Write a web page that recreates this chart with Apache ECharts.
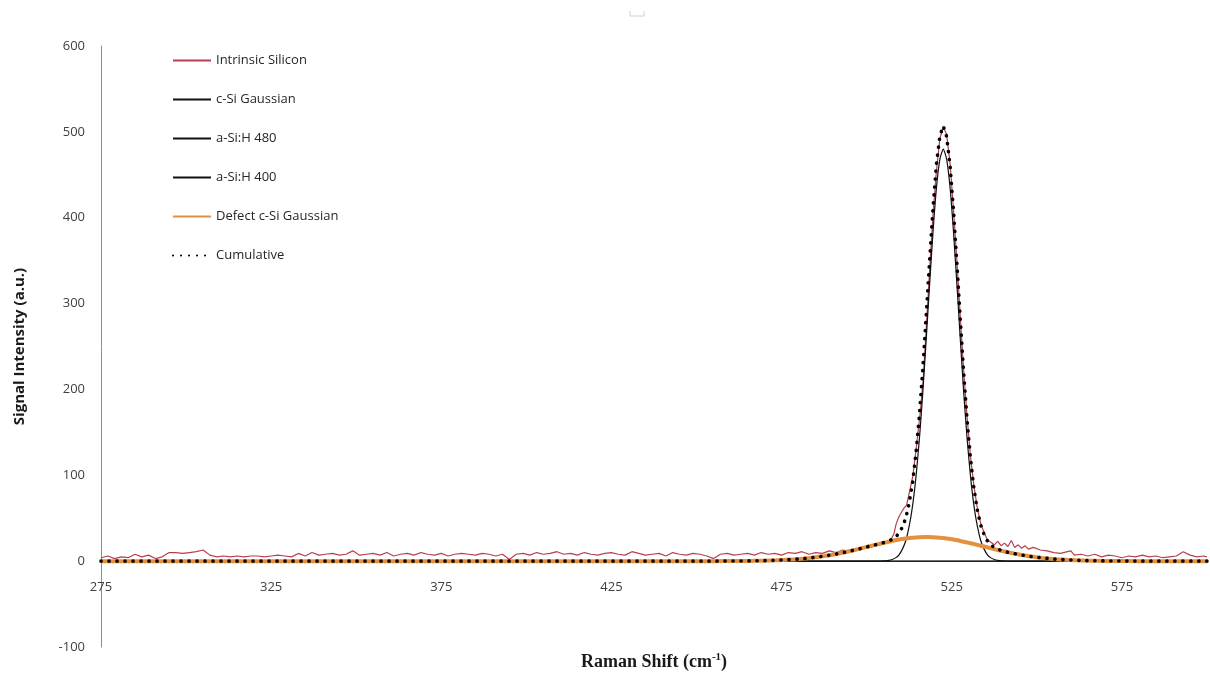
<!DOCTYPE html>
<html>
<head>
<meta charset="utf-8">
<script src="https://cdn.jsdelivr.net/npm/echarts@6/dist/echarts.min.js"></script>
<style>html,body{margin:0;padding:0;background:#fff}#c{width:1210px;height:675px}</style>
</head>
<body>
<div id="c"></div>
<script>
// ---- data ----
const seriesNames = ['Intrinsic Silicon', 'c-Si Gaussian', 'a-Si:H 480', 'a-Si:H 400', 'Defect c-Si Gaussian', 'Cumulative'];
const yTicks = [-100, 0, 100, 200, 300, 400, 500, 600];
const xTicks = [275, 325, 375, 425, 475, 525, 575];

const intrinsicSilicon = [
  [275,4],[277,6],[279,3],[281,5],[283,4],[285,8],[287,5],[289,7],[291,3],[293,5],
  [295,10],[297,10],[299,9],[301,10],[303,11],[305,13],[307,7],[309,5],[311,6],[313,5],
  [315,6],[317,5],[319,6],[321,6],[323,5],[325,6],[327,7],[329,6],[331,5],[333,9],
  [335,6],[337,10],[339,7],[341,8],[343,9],[345,7],[347,8],[349,12],[351,7],[353,8],
  [355,9],[357,7],[359,10],[361,6],[363,8],[365,9],[367,7],[369,10],[371,8],[373,7],
  [375,9],[377,6],[379,8],[381,9],[383,8],[385,7],[387,9],[389,8],[391,6],[393,8],
  [395,2],[397,8],[399,9],[401,7],[403,10],[405,8],[407,9],[409,11],[411,8],[413,9],
  [415,7],[417,10],[419,8],[421,7],[423,9],[425,10],[427,8],[429,7],[431,11],[433,9],
  [435,7],[437,8],[439,9],[441,6],[443,10],[445,8],[447,7],[449,9],[451,8],[453,6],
  [455,3],[457,8],[459,9],[461,7],[463,8],[465,9],[467,7],[469,10],[471,8],[473,9],
  [475,7],[477,10],[479,9],[481,11],[483,8],[485,10],[487,9],[489,12],[491,10],[493,13],
  [495,11],[497,14],[499,15],[501,17],[503,18],[505,20],[507,24],[508,32],[508.7,44],[509.5,52],
  [510.2,57],[511,62],[511.7,65],[512.7,83],[513.6,100],[514.6,133],[515.7,172],[516.6,211],[517.5,270],[518.5,340],
  [519.5,405],[520.5,455],[521.5,492],[522.5,506],[523.5,497],[524.5,463],[525.5,410],[526.5,350],[527.5,285],[528.5,222],
  [529.5,168],[530.5,122],[531.5,88],[532.5,62],[533.5,44],[534.5,33],[535.5,25],[536.5,22],[537.5,19],[538.5,23],
  [539.5,18],[540.5,21],[541.5,17],[542.5,24],[543.5,16],[544.5,19],[545.5,15],[546.5,18],[547.5,14],[549,16],
  [551,13],[553,12],[555,10],[557,9],[559,11],[560,12],[561,7],[563,8],[565,6],[567,8],[569,5],
  [571,7],[573,6],[575,4],[577,6],[579,5],[581,7],[583,5],[585,6],[587,4],[589,5],
  [591,6],[593,11],[595,7],[597,5],[599,6],[600,5]
];

const cSiGaussian = [
  [275,0],[503.5,0],[504.5,0.2],[505.5,0.4],[506.5,0.9],[507.5,1.9],[508.5,3.8],[509.5,7.4],[510.5,14],[511.5,24],
  [512.5,41],[513.5,65],[514.5,99],[515.5,143],[516.5,197],[517.5,259],[518.5,323],[519.5,384],[520.5,435],[521.5,468],
  [522.5,480],[523.5,468],[524.5,435],[525.5,384],[526.5,323],[527.5,259],[528.5,197],[529.5,143],[530.5,99],[531.5,65],
  [532.5,41],[533.5,24],[534.5,14],[535.5,7.4],[536.5,3.8],[537.5,1.9],[538.5,0.9],[539.5,0.4],[540.5,0.2],[541.5,0],[600,0]
];

const aSiH480 = [[275,0],[600,0]];
const aSiH400 = [[275,0],[600,0]];

const defectGaussian = [
  [275,0],[455,0],[461.5,0.12],[465.5,0.26],[469.5,0.5],[473.5,1.0],[477.5,1.8],[479.5,2.3],[481.5,3.0],[483.5,3.8],
  [485.5,4.8],[487.5,5.9],[489.5,7.2],[491.5,8.7],[493.5,10.3],[495.5,12.1],[497.5,14.0],[499.5,16.0],[501.5,18.0],[503.5,19.9],
  [505.5,21.8],[507.5,23.5],[509.5,25.1],[511.5,26.3],[513.5,27.2],[515.5,27.8],[517.5,28],[519.5,27.8],[521.5,27.2],[523.5,26.3],
  [525.5,25.1],[527.5,23.5],[529.5,21.8],[531.5,19.9],[533.5,18.0],[535.5,16.0],[537.5,14.0],[539.5,12.1],[541.5,10.3],[543.5,8.7],
  [545.5,7.2],[547.5,5.9],[549.5,4.8],[551.5,3.8],[553.5,3.0],[555.5,2.3],[557.5,1.8],[561.5,1.0],[565.5,0.5],[569.5,0.26],
  [573.5,0.12],[580,0],[600,0]
];

const cumulative = [
  [275,0],[455,0],[461.5,0.12],[465.5,0.26],[469.5,0.5],[473.5,1.0],[477.5,1.8],[479.5,2.3],[481.5,3.0],[483.5,3.8],
  [485.5,4.8],[487.5,5.9],[489.5,7.2],[491.5,8.7],[493.5,10.3],[495.5,12.1],[497.5,14.0],[499.5,16.0],[500.5,17.0],[501.5,18.0],
  [502.5,19.0],[503.5,19.9],[504.5,21.1],[505.5,22.2],[506.5,23.6],[507.5,25.4],[508.5,28.1],[509.5,32.5],[510.5,39.7],[511.5,50.3],
  [512.5,67.8],[513.5,92.2],[514.5,126.6],[515.5,170.8],[516.5,225],[517.5,287],[518.5,351],[519.5,411.8],[520.5,462.6],[521.5,495.2],
  [522.5,506.8],[523.5,494.3],[524.5,460.7],[525.5,409.1],[526.5,347.3],[527.5,282.5],[528.5,219.7],[529.5,164.8],[530.5,119.9],[531.5,84.9],
  [532.5,60],[533.5,42],[534.5,31],[535.5,23.4],[536.5,18.8],[537.5,15.9],[538.5,13.9],[539.5,12.5],[540.5,11.4],[541.5,10.3],
  [543.5,8.7],[545.5,7.2],[547.5,5.9],[549.5,4.8],[551.5,3.8],[553.5,3.0],[555.5,2.3],[557.5,1.8],[561.5,1.0],[565.5,0.5],
  [569.5,0.26],[573.5,0.12],[580,0],[600,0]
];

// ---- chart ----
const chart = echarts.init(document.getElementById('c'), null, {renderer: 'canvas'});
const labelFont = {fontFamily: 'Open Sans', fontSize: 13, color: '#404040'};

chart.setOption({
  animation: false,
  backgroundColor: '#ffffff',
  grid: {left: 101, right: 3, top: 46, bottom: 28, containLabel: false, outerBoundsMode: 'none'},
  legend: {
    orient: 'vertical', left: 172, top: 54, padding: 0,
    itemWidth: 38, itemHeight: 14, itemGap: 26,
    itemStyle: {opacity: 0},
    textStyle: {fontFamily: 'Open Sans', fontSize: 13, color: '#262626'},
    data: seriesNames
  },
  graphic: [{
    type: 'polyline', silent: true,
    shape: {points: [[630, 11], [630, 16], [644, 16], [644, 11]]},
    style: {stroke: '#d0d0d0', lineWidth: 1, fill: null}
  }],
  xAxis: {
    type: 'value', min: xTicks[0], max: 600, interval: 50,
    axisLine: {show: true, onZero: true, lineStyle: {color: '#8c8c8c', width: 1}},
    axisTick: {show: false},
    splitLine: {show: false},
    axisLabel: Object.assign({margin: -66, showMaxLabel: false,
      formatter: v => (xTicks.indexOf(v) >= 0 ? String(v) : '')}, labelFont),
    name: '{a|Raman Shift (cm}{s|-1}{a|)}',
    nameLocation: 'middle', nameGap: 5,
    nameTextStyle: {
      rich: {
        a: {fontFamily: 'Liberation Serif', fontWeight: 'bold', fontSize: 18, color: '#1a1a1a', lineHeight: 20},
        s: {fontFamily: 'Liberation Serif', fontWeight: 'bold', fontSize: 11, color: '#1a1a1a', lineHeight: 20, verticalAlign: 'top', padding: [0, 0, 8, 0]}
      }
    }
  },
  yAxis: {
    type: 'value', min: yTicks[0], max: yTicks[yTicks.length - 1], interval: 100,
    axisLine: {show: true, onZero: false, lineStyle: {color: '#8c8c8c', width: 1}},
    axisTick: {show: false},
    splitLine: {show: false},
    axisLabel: Object.assign({margin: 16}, labelFont),
    name: 'Signal Intensity (a.u.)',
    nameLocation: 'middle', nameGap: 74, nameRotate: 90,
    nameTextStyle: {fontFamily: 'Open Sans', fontWeight: 'bold', fontSize: 15, color: '#1a1a1a'}
  },
  series: [
    {name: seriesNames[0], type: 'line', data: intrinsicSilicon, symbol: 'none', lineStyle: {color: '#b8404c', width: 1.2}, itemStyle: {color: '#b8404c'}},
    {name: seriesNames[1], type: 'line', data: cSiGaussian, symbol: 'none', smooth: 0.2, lineStyle: {color: '#111', width: 1.2}, itemStyle: {color: '#111'}},
    {name: seriesNames[2], type: 'line', data: aSiH480, symbol: 'none', lineStyle: {color: '#111', width: 1}, itemStyle: {color: '#111'}},
    {name: seriesNames[3], type: 'line', data: aSiH400, symbol: 'none', lineStyle: {color: '#111', width: 1}, itemStyle: {color: '#111'}},
    {name: seriesNames[4], type: 'line', data: defectGaussian, symbol: 'none', smooth: 0.2, lineStyle: {color: '#e3913e', width: 4}, itemStyle: {color: '#e3913e'}},
    {name: seriesNames[5], type: 'line', data: cumulative, symbol: 'none', lineStyle: {color: '#000', width: 3.6, type: [0.1, 7.9], cap: 'round'}, itemStyle: {color: '#000'}}
  ]
});
</script>
</body>
</html>
